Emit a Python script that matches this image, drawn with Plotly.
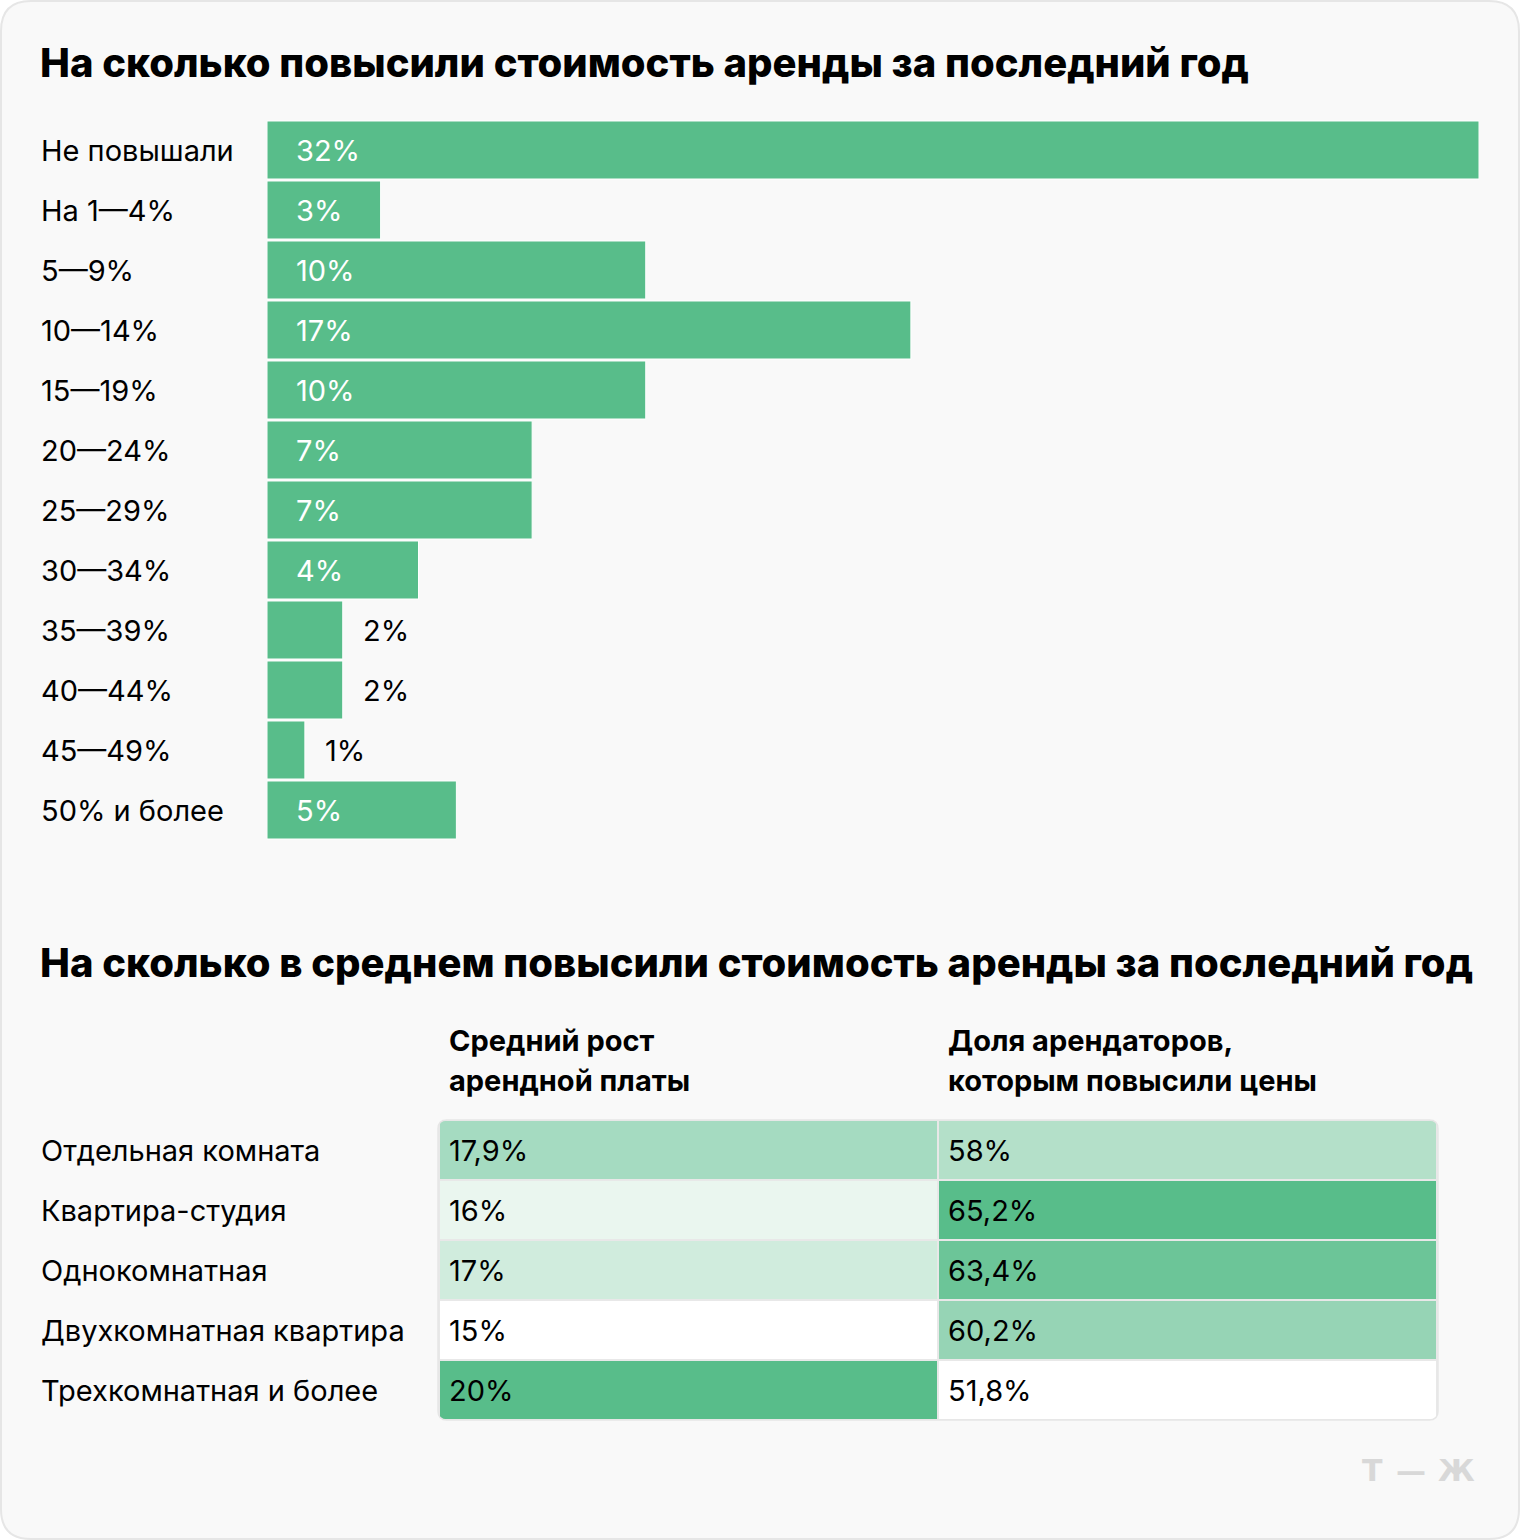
import plotly.graph_objects as go

W, H = 1520, 1540

# ---------- data ----------
title1 = "На сколько повысили стоимость аренды за последний год"
title2 = "На сколько в среднем повысили стоимость аренды за последний год"

bar_categories = ["Не повышали", "На 1—4%", "5—9%", "10—14%", "15—19%", "20—24%",
                  "25—29%", "30—34%", "35—39%", "40—44%", "45—49%", "50% и более"]
bar_values = [32, 3, 10, 17, 10, 7, 7, 4, 2, 2, 1, 5]

table_rows = ["Отдельная комната", "Квартира-студия", "Однокомнатная",
              "Двухкомнатная квартира", "Трехкомнатная и более"]
table_headers = [["Средний рост", "арендной платы"],
                 ["Доля арендаторов,", "которым повысили цены"]]
avg_growth = [17.9, 16, 17, 15, 20]
share_raised = [58, 65.2, 63.4, 60.2, 51.8]

logo_parts = ["Т", "—", "Ж"]

# ---------- styles ----------
FONT = "Inter"
GREEN = "#58bd8a"
CARD = "#f9f9f9"
TXT = 29

def px(x):
    return x / W

def py(y):
    return 1 - y / H

def fmt(v):
    s = ("%g" % v).replace(".", ",")
    return s + "%"

fig = go.Figure()

# bar chart
fig.add_trace(go.Bar(
    x=bar_values, y=bar_categories, orientation="h",
    marker=dict(color=GREEN, line=dict(color="#ffffff", width=1)),
    width=0.967, hoverinfo="skip", xaxis="x", yaxis="y",
))

# table heatmaps
scale1 = [[0, "#ffffff"], [0.2, "#eaf6ef"], [0.4, "#d0ecdd"], [0.58, "#a5dbc1"], [1, GREEN]]
scale2 = [[0, "#ffffff"], [0.463, "#b4e0c9"], [0.627, "#96d4b5"], [0.866, "#6cc598"], [1, GREEN]]
fig.add_trace(go.Heatmap(
    z=[[v] for v in avg_growth], x=[0], y=list(range(len(table_rows))),
    colorscale=scale1, zmin=min(avg_growth), zmax=max(avg_growth),
    showscale=False, xgap=2, ygap=2, hoverinfo="skip", xaxis="x2", yaxis="y2",
))
fig.add_trace(go.Heatmap(
    z=[[v] for v in share_raised], x=[1], y=list(range(len(table_rows))),
    colorscale=scale2, zmin=min(share_raised), zmax=max(share_raised),
    showscale=False, xgap=2, ygap=2, hoverinfo="skip", xaxis="x2", yaxis="y2",
))

ann = []
# titles
for t, yc in [(title1, 63), (title2, 963)]:
    ann.append(dict(text=t, xref="paper", yref="paper", x=px(41), xshift=-3, y=py(yc),
                    xanchor="left", yanchor="middle", showarrow=False,
                    font=dict(family=FONT, size=40, color="#000000", weight=800)))
# bar category labels + value labels
for c, v in zip(bar_categories, bar_values):
    ann.append(dict(text=c, xref="paper", yref="y", x=px(41), xshift=-2, y=c,
                    xanchor="left", yanchor="middle", showarrow=False,
                    font=dict(family=FONT, size=TXT, color="#000000")))
    if v >= 3:
        ann.append(dict(text="%d%%" % v, xref="x", yref="y", x=0, y=c, xanchor="left",
                        xshift=27, yanchor="middle", showarrow=False,
                        font=dict(family=FONT, size=TXT, color="#ffffff")))
    else:
        ann.append(dict(text="%d%%" % v, xref="x", yref="y", x=v, y=c, xanchor="left",
                        xshift=18, yanchor="middle", showarrow=False,
                        font=dict(family=FONT, size=TXT, color="#000000")))
# table headers
for ci, lines in enumerate(table_headers):
    for li, line in enumerate(lines):
        ann.append(dict(text=line, xref="x2", yref="paper", x=ci - 0.5,
                        xshift=8, y=py(1040 + 40 * li), xanchor="left", yanchor="middle",
                        showarrow=False,
                        font=dict(family=FONT, size=TXT, color="#000000", weight=700)))
# table row labels & cell texts
for ri, r in enumerate(table_rows):
    ann.append(dict(text=r, xref="paper", yref="y2", x=px(41), xshift=-2, y=ri,
                    xanchor="left", yanchor="middle", showarrow=False,
                    font=dict(family=FONT, size=TXT, color="#000000")))
    for ci, col in enumerate([avg_growth, share_raised]):
        ann.append(dict(text=fmt(col[ri]), xref="x2", yref="y2", x=ci - 0.5, xshift=8,
                        y=ri, xanchor="left", yanchor="middle", showarrow=False,
                        font=dict(family=FONT, size=TXT, color="#000000")))
# logo
for part, xc in zip(logo_parts, [1372, 1411, 1456]):
    ann.append(dict(text=part, xref="paper", yref="paper", x=px(xc), y=py(1470),
                    xanchor="center", yanchor="middle", showarrow=False,
                    font=dict(family="DejaVu Sans", size=30, color="#d8d8d8", weight=800)))

def rrect(x0, y0, x1, y1, r):
    X0, X1 = px(x0), px(x1)
    Y0, Y1 = py(y0), py(y1)
    rx, ry = r / W, r / H
    return ("M %f,%f L %f,%f Q %f,%f %f,%f L %f,%f Q %f,%f %f,%f L %f,%f Q %f,%f %f,%f "
            "L %f,%f Q %f,%f %f,%f Z") % (
        X0 + rx, Y0, X1 - rx, Y0, X1, Y0, X1, Y0 - ry, X1, Y1 + ry, X1, Y1, X1 - rx, Y1,
        X0 + rx, Y1, X0, Y1, X0, Y1 + ry, X0, Y0 - ry, X0, Y0, X0 + rx, Y0)

def corner_mask(cx, cy, sx, sy, r):
    # cx, cy: square corner in px; sx, sy: direction into the table (+1/-1)
    A = (px(cx + sx * r), py(cy))
    C = (px(cx), py(cy))
    B = (px(cx), py(cy + sy * r))
    return "M %f,%f L %f,%f L %f,%f Q %f,%f %f,%f Z" % (
        C[0], C[1], A[0], A[1], A[0], A[1], C[0], C[1], B[0], B[1])

tx0, ty0, tx1, ty1, tr = 438, 1120, 1438, 1420, 9
shapes = [
    dict(type="path", path=rrect(1, 1, 1519, 1539, 30), xref="paper", yref="paper",
         fillcolor=CARD, line=dict(color="#e6e6e6", width=2), layer="below"),
    dict(type="path", path=rrect(tx0, ty0, tx1, ty1, tr), xref="paper", yref="paper",
         fillcolor="#e8e8e8", line=dict(width=0), layer="below"),
]
for cx, cy, sx, sy in [(tx0, ty0, 1, 1), (tx1, ty0, -1, 1), (tx0, ty1, 1, -1), (tx1, ty1, -1, -1)]:
    shapes.append(dict(type="path", path=corner_mask(cx, cy, sx, sy, tr), xref="paper",
                       yref="paper", fillcolor=CARD, line=dict(width=0), layer="above"))
shapes.append(dict(type="path", path=rrect(tx0, ty0, tx1, ty1, tr), xref="paper",
                   yref="paper", fillcolor="rgba(0,0,0,0)",
                   line=dict(color="#e6e6e6", width=1.5), layer="above"))

fig.update_layout(
    width=W, height=H, margin=dict(l=0, r=0, t=0, b=0),
    paper_bgcolor="#ffffff", plot_bgcolor="rgba(0,0,0,0)",
    showlegend=False, annotations=ann, shapes=shapes,
    xaxis=dict(domain=[px(267), px(1479)], range=[0, max(bar_values)], visible=False,
               fixedrange=True),
    yaxis=dict(domain=[py(840), py(120)], range=[len(bar_categories) - 0.5, -0.5],
               visible=False, fixedrange=True, type="category"),
    xaxis2=dict(domain=[px(439), px(1437)], range=[-0.5, 1.5], visible=False,
                fixedrange=True),
    yaxis2=dict(domain=[py(1420), py(1120)], range=[len(table_rows) - 0.5, -0.5],
                visible=False, fixedrange=True),
)

fig.write_html("out.html", config={"displayModeBar": False},
               post_script="document.body.style.margin='0';")
